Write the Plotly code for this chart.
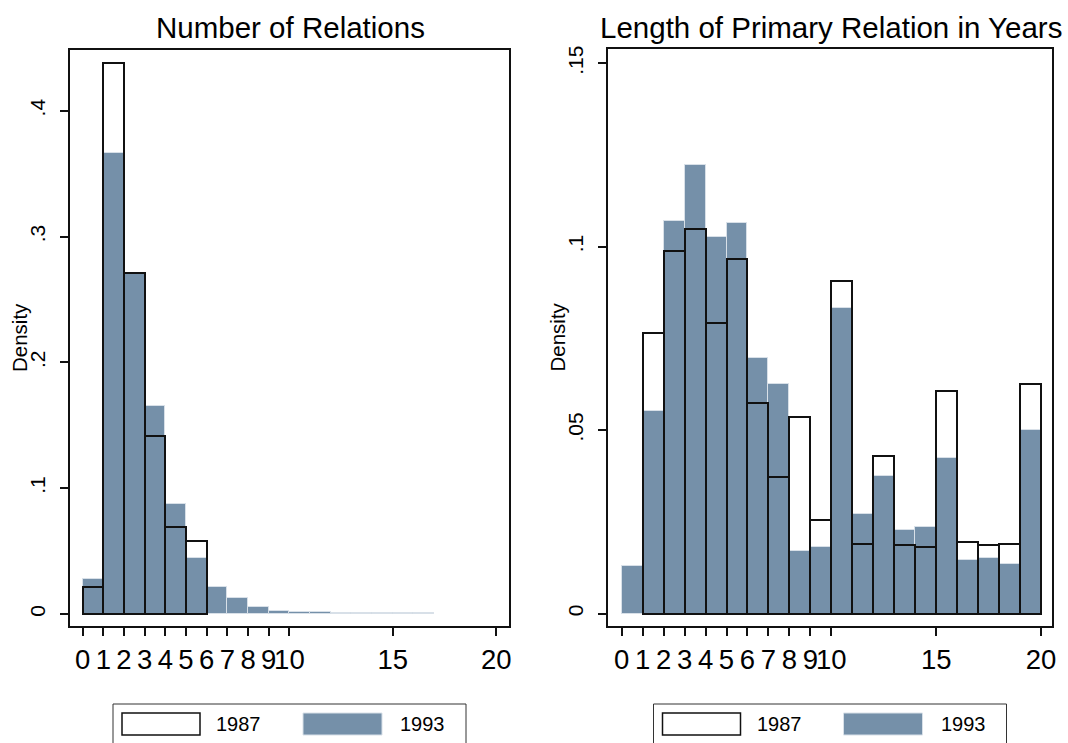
import plotly.graph_objects as go

# ---- data: histogram densities, unit-width bins ----
# Number of relations (bins start at 0)
rel_bins_1987 = [0, 1, 2, 3, 4, 5]
rel_1987 = [0.0212, 0.4378, 0.2713, 0.1415, 0.0694, 0.0583]
rel_bins_1993 = list(range(0, 17))
rel_1993 = [0.0276, 0.3662, 0.2700, 0.1653, 0.0874, 0.0445, 0.0217, 0.0127,
            0.0058, 0.0026, 0.0016, 0.0019, 0.0009, 0.0009, 0.0010, 0.0009, 0.0009]

# Length of primary relation in years
len_bins_1987 = list(range(1, 20))
len_1987 = [0.0766, 0.0989, 0.1048, 0.0793, 0.0966, 0.0575, 0.0371, 0.0535, 0.0254,
            0.0907, 0.0190, 0.0430, 0.0186, 0.0182, 0.0608, 0.0195, 0.0187, 0.0190, 0.0626]
len_bins_1993 = list(range(0, 20))
len_1993 = [0.0129, 0.0553, 0.1070, 0.1223, 0.1026, 0.1064, 0.0696, 0.0626, 0.0171, 0.0182,
            0.0832, 0.0271, 0.0376, 0.0228, 0.0235, 0.0424, 0.0145, 0.0152, 0.0135, 0.0500]

x_tickvals = [0, 1, 2, 3, 4, 5, 6, 7, 8, 9, 10, 15, 20]
x_ticktext = [str(v) for v in x_tickvals]
rel_ytickvals = [0, 0.1, 0.2, 0.3, 0.4]
rel_yticktext = ["0", ".1", ".2", ".3", ".4"]
len_ytickvals = [0, 0.05, 0.1, 0.15]
len_yticktext = ["0", ".05", ".1", ".15"]

titles = ["Number of Relations", "Length of Primary Relation in Years"]
years = ["1987", "1993"]

# ---- styling ----
W, H = 1068, 743
FONT = "Liberation Sans, Arial, sans-serif"
FILL = "#7590A9"
FILL_EDGE = "#D8E0E8"
INK = "#111111"


def px(x):
    return x / W


def py(y):
    return 1 - y / H


fig = go.Figure()


def add_hist(bins_a, vals_a, bins_b, vals_b, xa, ya):
    # 1993 filled bars underneath
    fig.add_trace(go.Bar(
        x=[b + 0.5 for b in bins_b], y=vals_b, width=1.0,
        marker=dict(color=FILL, line=dict(color=FILL_EDGE, width=1)),
        xaxis=xa, yaxis=ya, showlegend=False, name=years[1]))
    # 1987 outlined bars on top
    fig.add_trace(go.Bar(
        x=[b + 0.5 for b in bins_a], y=vals_a, width=1.0,
        marker=dict(color="rgba(0,0,0,0)", line=dict(color=INK, width=2)),
        xaxis=xa, yaxis=ya, showlegend=False, name=years[0]))


add_hist(rel_bins_1987, rel_1987, rel_bins_1993, rel_1993, "x", "y")
add_hist(len_bins_1987, len_1987, len_bins_1993, len_1993, "x2", "y2")

xaxis_common = dict(
    tickvals=x_tickvals, ticktext=x_ticktext, tickangle=0,
    ticks="outside", ticklen=8, tickwidth=1.5, tickcolor=INK,
    tickfont=dict(family=FONT, size=27.5, color="black"),
    showline=True, linecolor=INK, linewidth=1.5, mirror=True,
    showgrid=False, zeroline=False, automargin=False,
)
yaxis_common = dict(
    tickangle=-90, ticks="outside", ticklen=8, tickwidth=1.5, tickcolor=INK,
    tickfont=dict(family=FONT, size=21, color="black"),
    showline=True, linecolor=INK, linewidth=1.5, mirror=True,
    showgrid=False, zeroline=False, automargin=False, ticklabelstandoff=7,
)

panels = [
    dict(left=70, right=509, top=50, bottom=626),
    dict(left=608, right=1052, top=49, bottom=626),
]

fig.update_layout(
    width=W, height=H,
    margin=dict(l=0, r=0, t=0, b=0),
    paper_bgcolor="white", plot_bgcolor="white",
    barmode="overlay", bargap=0,
    template="none",
    font=dict(family=FONT, color="black"),
    xaxis=dict(xaxis_common, domain=[px(panels[0]["left"]), px(panels[0]["right"])],
               range=[-0.61, 20.62], anchor="y"),
    yaxis=dict(yaxis_common, domain=[py(panels[0]["bottom"]), py(panels[0]["top"])],
               range=[-0.0095, 0.4483], tickvals=rel_ytickvals, ticktext=rel_yticktext,
               anchor="x"),
    xaxis2=dict(xaxis_common, domain=[px(panels[1]["left"]), px(panels[1]["right"])],
                range=[-0.65, 20.52], anchor="y2"),
    yaxis2=dict(yaxis_common, domain=[py(panels[1]["bottom"]), py(panels[1]["top"])],
                range=[-0.0034, 0.1539], tickvals=len_ytickvals, ticktext=len_yticktext,
                anchor="x2"),
)

annotations = []
shapes = []
for i, p in enumerate(panels):
    cx = (p["left"] + p["right"]) / 2
    # panel title
    annotations.append(dict(
        text=titles[i], xref="paper", yref="paper", x=px(cx + 1), y=py(27),
        xanchor="center", yanchor="middle", showarrow=False,
        font=dict(family=FONT, size=29.5, color="black")))
    # y axis title
    annotations.append(dict(
        text="Density", xref="paper", yref="paper",
        x=px(p["left"] - 51), y=py((p["top"] + p["bottom"]) / 2),
        xanchor="center", yanchor="middle", textangle=-90, showarrow=False,
        font=dict(family=FONT, size=20.5, color="black")))

    # legend box beneath each panel
    off = cx - 289.5
    shapes.append(dict(type="rect", xref="paper", yref="paper",
                       x0=px(113 + off), x1=px(466 + off), y0=py(747), y1=py(704),
                       line=dict(color="#333333", width=1), fillcolor="white"))
    shapes.append(dict(type="rect", xref="paper", yref="paper",
                       x0=px(122 + off), x1=px(200 + off), y0=py(735), y1=py(713),
                       line=dict(color=INK, width=1.5), fillcolor="white"))
    shapes.append(dict(type="rect", xref="paper", yref="paper",
                       x0=px(303 + off), x1=px(382 + off), y0=py(735), y1=py(713),
                       line=dict(color=FILL_EDGE, width=1), fillcolor=FILL))
    for label, lx in zip(years, [214 + off, 398 + off]):
        annotations.append(dict(
            text=label, xref="paper", yref="paper", x=px(lx), y=py(724),
            xanchor="left", yanchor="middle", showarrow=False,
            font=dict(family=FONT, size=20, color="black")))

fig.update_layout(annotations=annotations, shapes=shapes)

fig.write_html("out.html")
